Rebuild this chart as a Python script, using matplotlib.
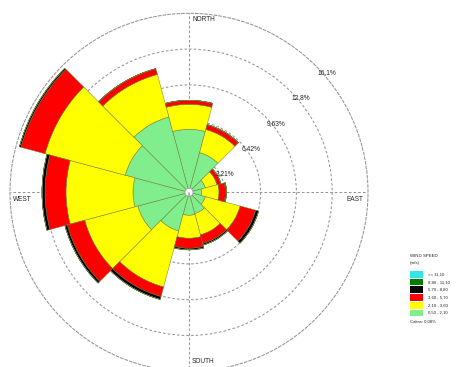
import numpy as np
import matplotlib
matplotlib.use('Agg')
import matplotlib.pyplot as plt
from matplotlib.patches import Rectangle

plt.rcParams['font.family'] = ['Liberation Sans', 'DejaVu Sans']

# ── Data (percent of time, 12 sectors clockwise from north) ──────────
sector_deg = [0, 30, 60, 90, 120, 150, 180, 210, 240, 270, 300, 330]

speed_labels = ['0,50 - 2,10', '2,10 - 3,60', '3,60 - 5,70',
                '5,70 - 8,80', '8,80 - 11,10', '>= 11,10']
speed_colors = ['#80ee8c', '#ffff00', '#ff0000', '#000000', '#007a00', '#33e6e6']

pct_050_210  = [5.65, 3.68, 1.52, 1.14, 1.52, 1.97, 2.06, 3.59, 4.75, 5.02, 5.92, 6.99]
pct_210_360  = [2.24, 2.15, 1.08, 1.55, 3.23, 1.98, 2.06, 5.20, 4.93, 6.01, 7.44, 3.95]
pct_360_570  = [0.36, 0.45, 0.36, 0.58, 1.44, 0.80, 0.90, 0.89, 1.62, 1.88, 2.24, 0.54]
pct_570_880  = [0.00, 0.00, 0.00, 0.09, 0.27, 0.14, 0.14, 0.27, 0.22, 0.27, 0.14, 0.00]
pct_880_1110 = [0.0] * 12
pct_ge_1110  = [0.0] * 12

ring_values = [3.21, 6.42, 9.63, 12.84, 16.05]
ring_labels = ['3,21%', '6,42%', '9,63%', '12,8%', '16,1%']
calms_text = 'Calms: 0,08%'

# ── Figure ───────────────────────────────────────────────────────────
W, H = 465, 367
fig = plt.figure(figsize=(W / 100, H / 100), dpi=100)
fig.patch.set_facecolor('white')

cx, cy, R = 189, 192.3, 179
ax = fig.add_axes([(cx - R) / W, (H - cy - R) / H, 2 * R / W, 2 * R / H],
                  projection='polar')
ax.set_theta_zero_location('N')
ax.set_theta_direction(-1)
ax.set_ylim(0, ring_values[-1])
ax.set_axisbelow(True)

theta = np.deg2rad(sector_deg)
width = 2 * np.pi / len(sector_deg)
series = [pct_050_210, pct_210_360, pct_360_570, pct_570_880, pct_880_1110, pct_ge_1110]

bottom = np.zeros(len(sector_deg))
for vals, col in zip(series, speed_colors):
    vals = np.array(vals)
    ax.bar(theta, vals, width=width, bottom=bottom, color=col,
           edgecolor='#6e7a3c', linewidth=0.35, zorder=2)
    bottom += vals

# calm circle in the middle
ax.bar(0, 0.36, width=2 * np.pi, bottom=0, color='white',
       edgecolor='#999999', linewidth=0.5, zorder=3)

# grid
ax.set_rgrids(ring_values[:-1], labels=[''] * 4)
ax.set_thetagrids([0, 90, 180, 270], labels=[''] * 4)
ax.grid(True, color='#949494', linestyle=(0, (2.5, 2)), linewidth=0.75)
ax.spines['polar'].set_color('#949494')
ax.spines['polar'].set_linestyle((0, (2.5, 2)))
ax.spines['polar'].set_linewidth(0.75)
ax.tick_params(length=0)

# ring labels along the 45 degree line
for rv, lab in zip(ring_values, ring_labels):
    ax.annotate(lab, xy=(np.pi / 4, rv), xytext=(1.2, -5),
                textcoords='offset points', ha='left', va='center',
                fontsize=4.8, color='#222222', zorder=5, annotation_clip=False)

# compass labels
rmax = ring_values[-1]
compass = [('NORTH', 0, (2.2, -4.3), 'left'),
           ('EAST', 90, (-3.3, -4.9), 'right'),
           ('WEST', 270, (2.2, -4.9), 'left'),
           ('SOUTH', 180, (2.2, 6.8), 'left')]
for lab, deg, off, ha in compass:
    ax.annotate(lab, xy=(np.deg2rad(deg), rmax), xytext=off,
                textcoords='offset points', ha=ha, va='center',
                fontsize=4.7, color='#222222', annotation_clip=False)

# ── Legend (pixel overlay) ───────────────────────────────────────────
lax = fig.add_axes([0, 0, 1, 1])
lax.set_xlim(0, W)
lax.set_ylim(H, 0)
lax.axis('off')

lax.text(410, 255.7, 'WIND SPEED', fontsize=3.2, color='#222222', va='center', ha='left')
lax.text(410, 263.3, '(m/s)', fontsize=3.2, color='#222222', va='center', ha='left')
leg_rows = list(zip(speed_labels, speed_colors))[::-1]
for i, (lab, col) in enumerate(leg_rows):
    yc = 274.3 + i * 7.74
    lax.add_patch(Rectangle((410, yc - 3.3), 12.7, 6.6, facecolor=col, edgecolor='none'))
    lax.text(428.3, yc, lab, fontsize=3.1, color='#222222', va='center', ha='left')
lax.text(410, 321.7, calms_text, fontsize=3.1, color='#222222', va='center', ha='left')

fig.savefig('out.png', dpi=100, facecolor='white')
